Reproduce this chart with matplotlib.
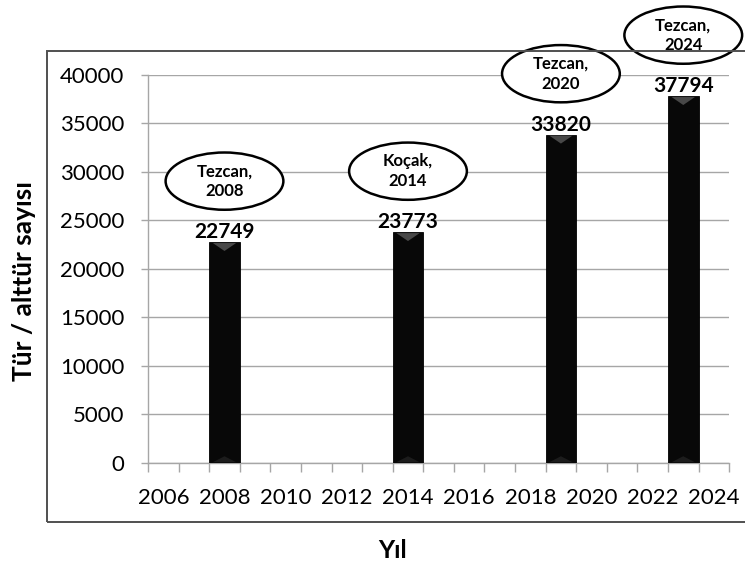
import matplotlib.pyplot as plt
from matplotlib.patches import Ellipse, Rectangle
import numpy as np

# Veriler
years = [2008, 2014, 2019, 2023]
counts = [22749, 23773, 33820, 37794]
notes = ["Tezcan,\n2008", "Koçak,\n2014", "Tezcan,\n2020", "Tezcan,\n2024"]
tick_years = list(range(2006, 2025, 2))

plt.rcParams['font.family'] = ['Lato', 'DejaVu Sans']

fig = plt.figure(figsize=(7.45, 5.65), dpi=100)
ax = fig.add_axes([0.1987, 0.1805, 0.78, 0.687])

grid_col = '#a6a6a6'

# Çubuklar
ax.bar(years, counts, width=1.0, color='#080808', edgecolor='#000000', linewidth=0.6, zorder=3)

# Üst/alt kısımdaki hafif gölge (bevel) efekti
for x, v in zip(years, counts):
    ax.fill([x - 0.38, x + 0.38, x], [v - 80, v - 80, v - 900], color='#484848', zorder=4, lw=0)
    ax.fill([x - 0.38, x + 0.38, x], [80, 80, 700], color='#1c1c1c', zorder=4, lw=0)

# Değer etiketleri
for x, v in zip(years, counts):
    ax.annotate(f"{v}", (x, v), xytext=(0, 3), textcoords='offset points',
                ha='center', va='baseline', fontsize=15, fontweight='bold', zorder=5)

# Elips notlar
for x, v, t in zip(years, counts, notes):
    yc = v + 6300
    e = Ellipse((x, yc), width=3.85, height=5900, facecolor='white', edgecolor='black',
                linewidth=1.8, clip_on=False, zorder=6)
    ax.add_patch(e)
    ax.text(x, yc, t, ha='center', va='center', fontsize=12, fontweight='bold',
            linespacing=1.3, zorder=7, clip_on=False)

# Eksenler
ax.set_xlim(2005.5, 2024.5)
ax.set_ylim(0, 40000)
ax.set_yticks(np.arange(0, 40001, 5000))
ax.set_xticks(tick_years)
ax.set_xticks(np.arange(2005.5, 2024.6, 1), minor=True)
ax.tick_params(axis='x', which='major', length=0, pad=18, labelsize=16)
ax.tick_params(axis='x', which='minor', length=6.5, color=grid_col, width=1)
ax.tick_params(axis='y', length=5, color=grid_col, width=1, pad=12, labelsize=16)
ax.yaxis.grid(True, color=grid_col, linewidth=1, zorder=0)
ax.set_axisbelow(True)
for s in ['top', 'right']:
    ax.spines[s].set_visible(False)
for s in ['left', 'bottom']:
    ax.spines[s].set_color(grid_col)
    ax.spines[s].set_linewidth(1)

ax.set_ylabel("Tür / alttür sayısı", fontsize=19, fontweight='bold')
ax.yaxis.set_label_coords(-0.192, 0.469)
ax.set_xlabel("Yıl", fontsize=18, fontweight='bold')
ax.xaxis.set_label_coords(0.4217, -0.195)

# Dış çerçeve
frame = Rectangle((47 / 745, 1 - 522 / 565), 1.0, (522 - 51) / 565, transform=fig.transFigure,
                  fill=False, edgecolor='#505050', linewidth=1.4, zorder=0)
fig.patches.append(frame)

fig.savefig("out.png", dpi=100, facecolor='white')
